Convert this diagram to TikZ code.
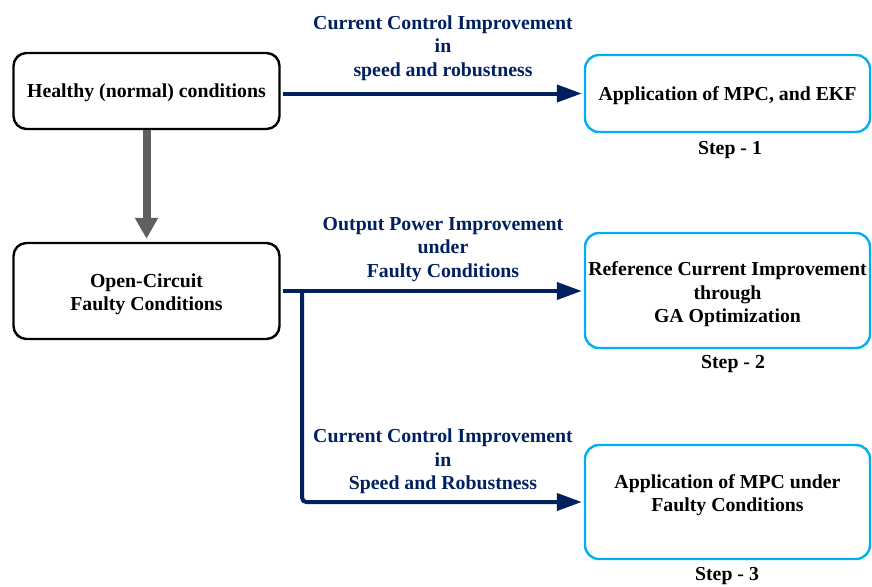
\documentclass[tikz,border=0pt]{standalone}
\usepackage{fontspec}
\setmainfont{Liberation Serif}
\usetikzlibrary{arrows.meta,calc}

\definecolor{navy}{RGB}{0,32,96}
\definecolor{skyline}{RGB}{0,176,240}
\definecolor{flowgray}{RGB}{95,95,95}

\tikzset{
  txt/.style={font=\fontsize{19.8pt}{23.5pt}\selectfont\bfseries, align=center},
  statebox/.style={txt, draw=black, line width=2.4pt, rounded corners=13pt,
    minimum width=266pt, inner sep=0pt},
  stepbox/.style={txt, draw=skyline, line width=2.4pt, rounded corners=14pt,
    minimum width=285pt, inner sep=0pt},
  steplabel/.style={txt, anchor=base, inner sep=0pt},
  improve/.style={txt, text=navy, inner sep=0pt},
  bluearrow/.style={draw=navy, line width=4pt,
    -{Triangle[length=25pt,width=17pt]}, shorten >=2pt, shorten <=2pt},
  grayarrow/.style={draw=flowgray, line width=8pt,
    -{Triangle[length=21pt,width=22pt]}, shorten >=3pt}
}

\begin{document}
\begin{tikzpicture}[x=1pt,y=-1pt]
  \useasboundingbox (0,0) rectangle (872,586);

  % operating conditions
  \node[statebox, minimum height=76pt, text height=17.5pt] (healthy) at (146.5,91)
    {Healthy (normal) conditions};
  \node[statebox, minimum height=96pt, text height=44pt] (open) at (146.5,291)
    {Open-Circuit\\Faulty Conditions};

  % steps
  \node[stepbox, minimum height=77pt, text height=17.5pt] (s1) at (727.5,93.5)
    {Application of MPC, and EKF};
  \node[stepbox, minimum height=115pt, text height=68.5pt] (s2) at (727.5,290.5)
    {Reference Current Improvement\\through\\GA Optimization};
  \node[stepbox, minimum height=114pt, text depth=18pt] (s3) at (727.5,502)
    {Application of MPC under\\Faulty Conditions};

  \node[steplabel] (l1) at (730,154) {Step - 1};
  \node[steplabel] (l2) at (733,368) {Step - 2};
  \node[steplabel] (l3) at (727,580) {Step - 3};

  % improvement labels
  \node[improve] (t1) at (443,48) {Current Control Improvement\\in\\speed and robustness};
  \node[improve] (t2) at (443,249.5) {Output Power Improvement\\under\\Faulty Conditions};
  \node[improve] (t3) at (443,461.5) {Current Control Improvement\\in\\Speed and Robustness};

  % connectors
  \draw[grayarrow] (healthy.south) -- (open.north);
  \draw[bluearrow] (healthy.east |- s1.west) -- (s1.west);
  \draw[bluearrow] (open.east) -- (open.east -| s2.west);
  \coordinate (branch) at ($(open.east)+(21.5,0)$);
  \draw[bluearrow, shorten <=0pt, rounded corners=4pt] (branch) |- (s3.west);
\end{tikzpicture}
\end{document}
